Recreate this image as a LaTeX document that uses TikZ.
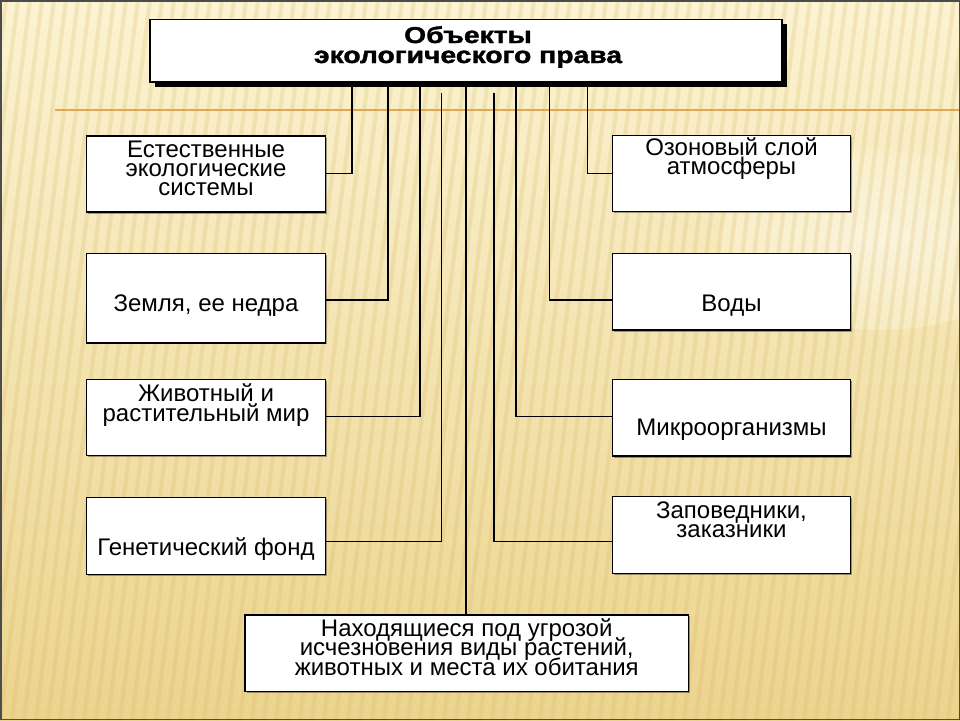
\documentclass[tikz,border=0pt]{standalone}
\usepackage{fontspec}
\setmainfont{Liberation Sans}
\newfontfamily\titlefont[FakeStretch=1.23,FakeBold=1.6]{Liberation Sans}
\usetikzlibrary{calc,shadows}
\definecolor{bgtop}{RGB}{251,243,210}
\definecolor{bgbot}{RGB}{236,212,142}
\definecolor{stripe}{RGB}{214,182,100}
\definecolor{orangeline}{RGB}{224,168,80}
\tikzset{
  box/.style={draw=black, fill=white, line width=1.3pt, inner sep=0pt,
    drop shadow={shadow xshift=1.5pt, shadow yshift=-1.5pt, fill=black, opacity=0.35}},
  topbox/.style={draw=black, fill=white, line width=1.3pt, inner sep=0pt,
    drop shadow={shadow xshift=4.5pt, shadow yshift=-4.5pt, fill=black, opacity=0.9}},
  txt/.style={anchor=base, align=center, inner sep=0pt,
    font=\fontsize{24}{19.3}\selectfont},
  ttl/.style={anchor=base, align=center, inner sep=0pt,
    font=\titlefont\fontsize{23}{20}\selectfont\bfseries},
  conn/.style={draw=black, line width=1.3pt},
  connsh/.style={draw=white, line width=1pt, opacity=0.6},
}
\begin{document}
\lineskiplimit=-50pt\relax
\lineskip=0pt\relax
\begin{tikzpicture}[x=1pt,y=-1pt]
\useasboundingbox (0,0) rectangle (960,720);
% background
\shade[top color=bgtop, bottom color=bgbot] (0,0) rectangle (960,720);
\shade[inner color=white, outer color=bgtop, opacity=0.5] (880,240) ellipse (160 and 90);
\begin{scope}
\clip (0,0) rectangle (960,720);
\foreach \s in {-120,-108,...,960} {
  \draw[stripe, opacity=0.22, line width=4pt] (\s,720) -- (\s+90,0);
}
\end{scope}
\draw[orangeline, line width=2pt] (55,110) -- (960,110);
\draw[black!70, line width=1.5pt] (0.75,0.75) rectangle (959.25,719.25);

% boxes
\node[topbox, minimum width=632pt, minimum height=62.5pt] (top) at (466,50.75) {};
\node[box, minimum width=238.5pt, minimum height=76pt] (b1) at (206,174) {};
\node[box, minimum width=238.5pt, minimum height=89.5pt] (b2) at (206,298.2) {};
\node[box, minimum width=238.5pt, minimum height=76pt] (b3) at (206,417.4) {};
\node[box, minimum width=238.5pt, minimum height=77pt] (b4) at (206,535.8) {};
\node[box, minimum width=238.4pt, minimum height=76pt] (b5) at (731.5,173.6) {};
\node[box, minimum width=238.4pt, minimum height=76.7pt] (b6) at (731.5,291.7) {};
\node[box, minimum width=238.4pt, minimum height=76.7pt] (b7) at (731.5,417.7) {};
\node[box, minimum width=238.4pt, minimum height=76.6pt] (b8) at (731.5,535) {};
\node[box, minimum width=443.3pt, minimum height=76.7pt] (bb) at (466.7,653.3) {};

% junction coordinates
\coordinate (j1) at (352,173.3);
\coordinate (j2) at (388,300);
\coordinate (j3) at (420,416.7);
\coordinate (j4) at (441.7,541.7);
\coordinate (j5) at (466,600);
\coordinate (j6) at (494,541.7);
\coordinate (j7) at (516,416.7);
\coordinate (j8) at (549.5,300);
\coordinate (j9) at (587.7,173.3);

% connector highlights
\begin{scope}[shift={(1.6,1.6)}]
\draw[connsh] (top.south -| j1) |- (b1.east |- j1);
\draw[connsh] (top.south -| j2) |- (b2.east |- j2);
\draw[connsh] (top.south -| j3) |- (b3.east |- j3);
\draw[connsh] ($(top.south -| j4)+(0,10)$) |- (b4.east |- j4);
\draw[connsh] (top.south -| j5) -- (bb.north -| j5);
\draw[connsh] ($(top.south -| j6)+(0,10)$) |- (b8.west |- j6);
\draw[connsh] (top.south -| j7) |- (b7.west |- j7);
\draw[connsh] (top.south -| j8) |- (b6.west |- j8);
\draw[connsh] (top.south -| j9) |- (b5.west |- j9);
\end{scope}
% connectors
\draw[conn] (top.south -| j1) |- (b1.east |- j1);
\draw[conn] (top.south -| j2) |- (b2.east |- j2);
\draw[conn] (top.south -| j3) |- (b3.east |- j3);
\draw[conn] ($(top.south -| j4)+(0,10)$) |- (b4.east |- j4);
\draw[conn] (top.south -| j5) -- (bb.north -| j5);
\draw[conn] ($(top.south -| j6)+(0,10)$) |- (b8.west |- j6);
\draw[conn] (top.south -| j7) |- (b7.west |- j7);
\draw[conn] (top.south -| j8) |- (b6.west |- j8);
\draw[conn] (top.south -| j9) |- (b5.west |- j9);
% redraw top box over line starts
\node[topbox, minimum width=632pt, minimum height=62.5pt] (top2) at (466,50.75) {};

% texts (anchor = baseline of last line)
\node[ttl] (tt) at (468,63) {Объекты\\экологического права};
\node[txt] (t1) at (206,195.6) {Естественные\\экологические\\системы};
\node[txt] (t2) at (206,311) {Земля, ее недра};
\node[txt] (t3) at (206,421.2) {Животный и\\растительный мир};
\node[txt] (t4) at (206,555) {Генетический фонд};
\node[txt] (t5) at (731.5,174.5) {Озоновый слой\\атмосферы};
\node[txt] (t6) at (731.5,311.7) {Воды};
\node[txt] (t7) at (731.5,435) {Микроорганизмы};
\node[txt] (t8) at (731.5,537.7) {Заповедники,\\заказники};
\node[txt] (t9) at (466.7,675.2) {Находящиеся под угрозой\\исчезновения виды растений,\\животных и места их обитания};
\end{tikzpicture}
\end{document}
